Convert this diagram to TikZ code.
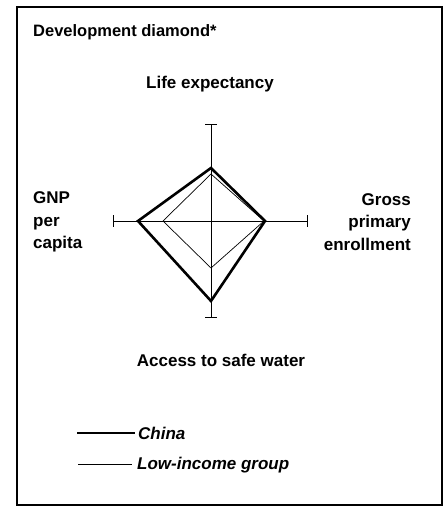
\documentclass[tikz,border=0pt]{standalone}
\usepackage{fontspec}
\setmainfont{Liberation Sans}
\usetikzlibrary{positioning}

\begin{document}
\begin{tikzpicture}[x=1pt, y=1pt,
      font=\bfseries\fontsize{17}{22.5}\selectfont,
      axis/.style={line width=0.8pt},
      tick/.style={line width=1pt},
      china/.style={line width=2.6pt, line join=miter},
      lowinc/.style={line width=0.7pt},
      lbl/.style={inner sep=0pt},
      legtext/.style={lbl, anchor=west, font=\bfseries\itshape\fontsize{17}{20}\selectfont}]
    \useasboundingbox (0,0) rectangle (445,508);
    % frame
    \draw[line width=1.3pt] (442,3) -- (17,3) -- (17,501) -- (442,501) -- cycle;
    % axes
    \coordinate (c)  at (211,287);
    \coordinate (up) at (211,383);
    \coordinate (dn) at (211,190);
    \coordinate (lf) at (113,287);
    \coordinate (rt) at (307,287);
    \draw[axis] (up) -- (dn);
    \draw[axis] (lf) -- (rt);
    \foreach \p in {up,dn}
      \draw[tick] ([xshift=-6pt]\p) -- ([xshift=6pt]\p);
    \foreach \p in {lf,rt}
      \draw[tick] ([yshift=-6pt]\p) -- ([yshift=6pt]\p);
    % diamonds
    \draw[lowinc] (211,334) -- (264,287) -- (211,240) -- (163,287) -- cycle;
    \draw[china]  (211,340) -- (265,287) -- (211,207) -- (138,287) -- cycle;
    % labels
    \node[lbl, anchor=west, font=\bfseries\fontsize{16.5}{18}\selectfont]
         (title) at (33,476) {Development diamond*};
    \node[lbl] (life) at (210,424) {Life expectancy};
    \node[lbl, anchor=west, align=left] (gnp) at (33,286) {GNP\\per\\capita};
    \node[lbl, anchor=east, align=right] (gross) at (411,286) {Gross\\primary\\enrollment};
    \node[lbl] (water) at (221,148) {Access to safe water};
    % legend
    \coordinate (ca) at (77,75);
    \coordinate (cb) at (135,75);
    \coordinate (la) at (78,43);
    \coordinate (lb) at (132,43);
    \draw[china, line width=2.4pt] (ca) -- (cb);
    \draw[lowinc, line width=1pt] (la) -- (lb);
    \node[legtext] (chn) at (138,75) {China};
    \node[legtext] (low) at (137,43) {Low-income group};
  \end{tikzpicture}
\end{document}
